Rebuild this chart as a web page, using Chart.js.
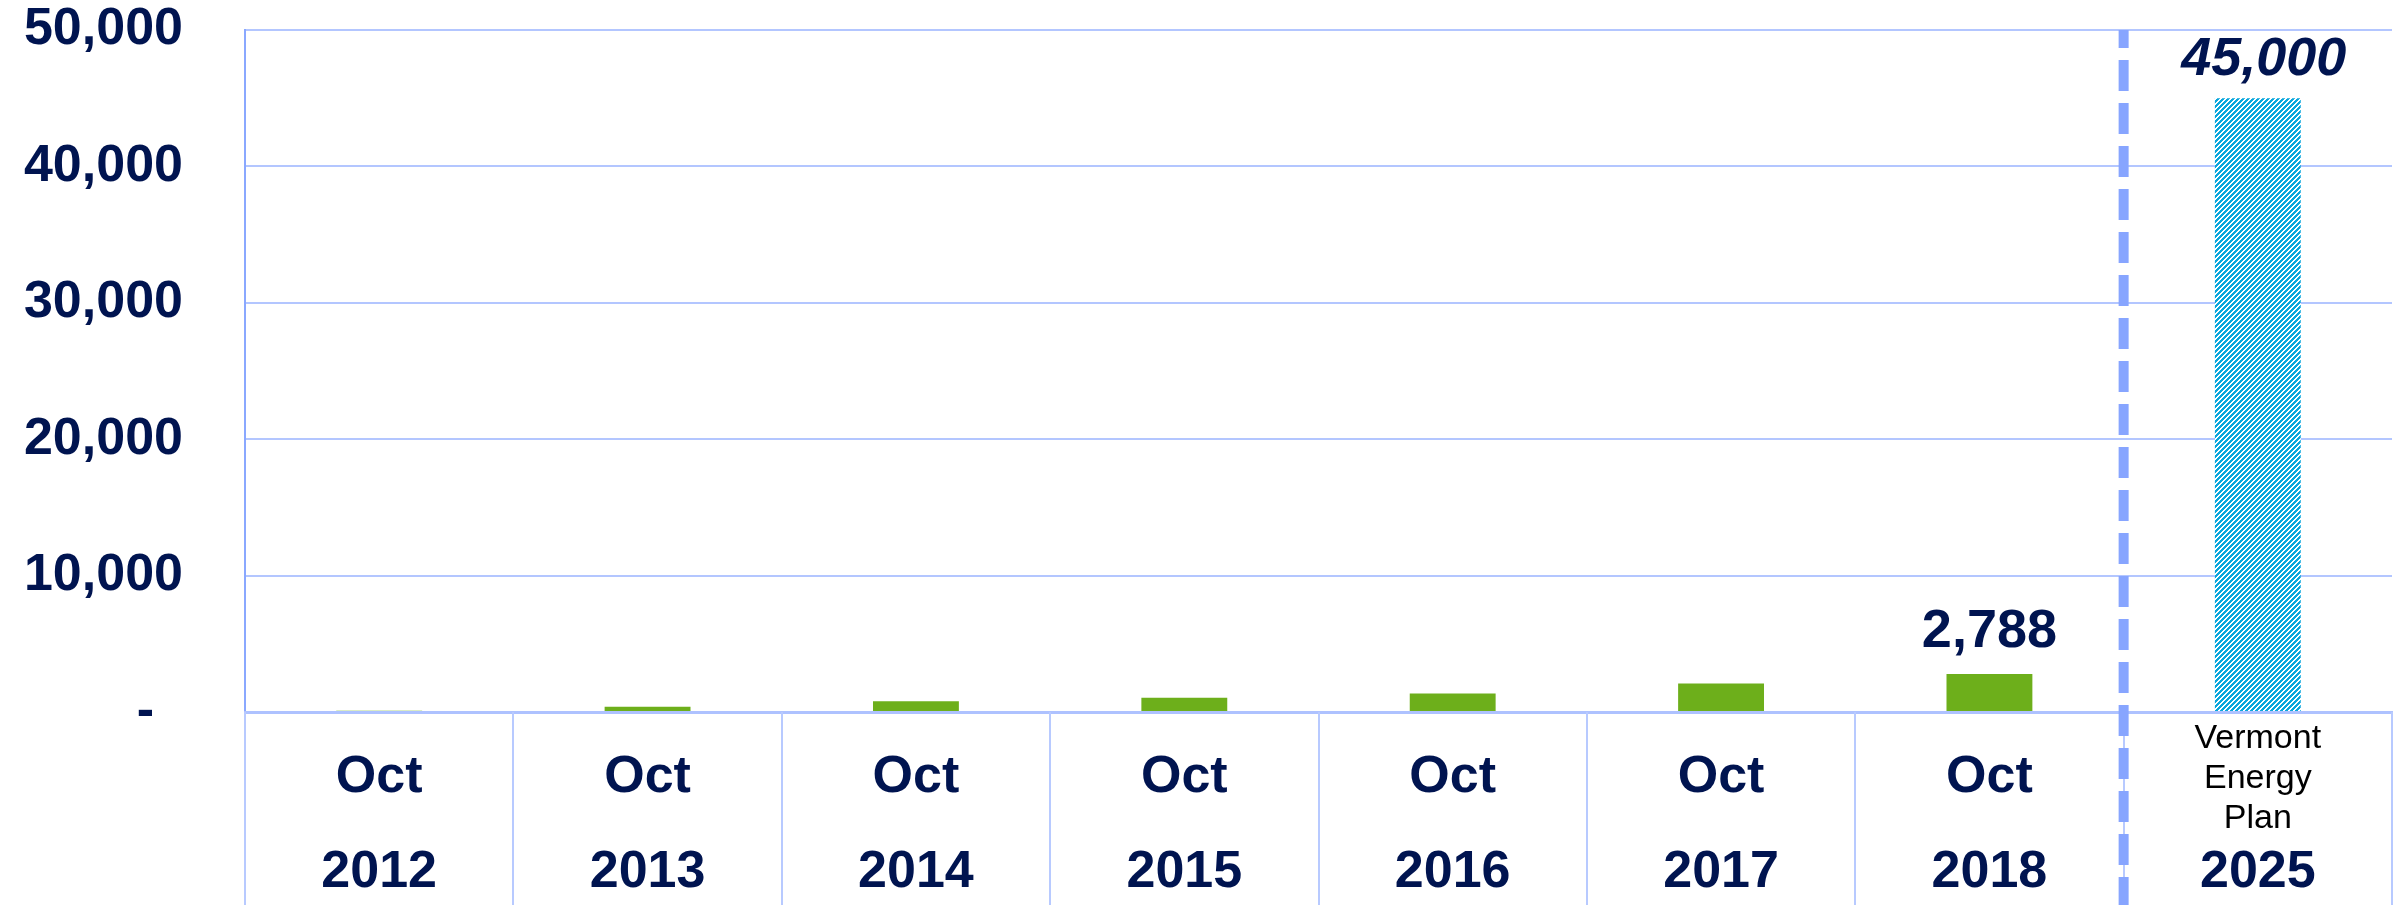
<!DOCTYPE html>
<html>
<head>
<meta charset="utf-8">
<script src="https://cdn.jsdelivr.net/npm/chart.js@4.4.0/dist/chart.umd.min.js"></script>
<style>
  html, body { margin: 0; padding: 0; background: #fff; }
  #wrap { width: 2405px; height: 905px; }
</style>
</head>
<body>
<div id="wrap"><canvas id="chart" width="2405" height="905"></canvas></div>
<script>
// EV registrations by October of each year, plus the 2025 plan target
const periods = ['Oct', 'Oct', 'Oct', 'Oct', 'Oct', 'Oct', 'Oct', ['Vermont', 'Energy', 'Plan']];
const years = ['2012', '2013', '2014', '2015', '2016', '2017', '2018', '2025'];
const values = [100, 390, 780, 1050, 1350, 2090, 2788, 45000];
const valueLabels = [null, null, null, null, null, null, '2,788', '45,000'];
const yTicks = [0, 10000, 20000, 30000, 40000, 50000];

(function () {
  const NAVY = '#001450';
  const GREEN = '#6daf1b';
  const HATCH = '#0aa6dc';
  const FAMILY = '"Liberation Sans", Arial, sans-serif';
  const last = years.length - 1; // the plan target column

  const canvas = document.getElementById('chart');
  const ctx = canvas.getContext('2d');

  function hatchPattern() {
    const c = document.createElement('canvas');
    c.width = 5; c.height = 5;
    const g = c.getContext('2d');
    g.fillStyle = '#fff'; g.fillRect(0, 0, 5, 5);
    g.fillStyle = HATCH;
    for (let x = 0; x < 5; x++) for (let y = 0; y < 5; y++) if ((x + y) % 5 < 3) g.fillRect(x, y, 1, 1);
    return ctx.createPattern(c, 'repeat');
  }
  const pattern = hatchPattern();

  // category dividers under the axis + dashed separator before the plan column
  const frame = {
    id: 'frame',
    afterDraw(chart) {
      const xs = chart.scales.x, area = chart.chartArea, c = chart.ctx;
      const step = xs.getPixelForValue(1) - xs.getPixelForValue(0);
      const x0 = xs.getPixelForValue(0) - step / 2;
      c.save();
      c.strokeStyle = '#b8caff'; c.lineWidth = 2;
      for (let i = 0; i <= years.length; i++) {
        const x = Math.round(x0 + i * step);
        c.beginPath(); c.moveTo(x, area.bottom); c.lineTo(x, chart.height); c.stroke();
      }
      const xd = (xs.getPixelForValue(last - 1) + xs.getPixelForValue(last)) / 2;
      c.strokeStyle = '#87a5ff'; c.lineWidth = 10;
      c.setLineDash([31, 12]); c.lineDashOffset = 13;
      c.beginPath(); c.moveTo(xd, area.top); c.lineTo(xd, chart.height); c.stroke();
      c.restore();
    }
  };

  const barLabels = {
    id: 'barLabels',
    afterDatasetsDraw(chart) {
      const meta = chart.getDatasetMeta(0), c = chart.ctx;
      c.save();
      c.fillStyle = NAVY; c.textAlign = 'center'; c.textBaseline = 'alphabetic';
      meta.data.forEach((bar, i) => {
        if (!valueLabels[i]) return;
        c.font = (i === last ? 'italic ' : '') + 'bold 54px ' + FAMILY;
        c.fillText(valueLabels[i], bar.x + (i === last ? 6 : 0), bar.y - (i === last ? 23 : 27));
      });
      c.restore();
    }
  };

  new Chart(ctx, {
    type: 'bar',
    data: {
      labels: periods,
      datasets: [{
        data: values,
        backgroundColor: c => c.dataIndex === last ? pattern : GREEN,
        borderWidth: 0,
        barPercentage: 0.32, categoryPercentage: 1
      }]
    },
    options: {
      responsive: false, animation: false, devicePixelRatio: 1,
      layout: { padding: { top: 30, right: 13, left: 0, bottom: 0 } },
      plugins: { legend: { display: false }, tooltip: { enabled: false } },
      scales: {
        y: {
          min: 0, max: 50000,
          afterBuildTicks: s => { s.ticks = yTicks.map(v => ({ value: v })); },
          afterFit: s => { s.width = 245; s.paddingTop = 20; s.paddingBottom = 20; },
          border: { display: true, color: '#8aa8ff', width: 2 },
          grid: { color: '#b3c6ff', lineWidth: 2, drawTicks: false },
          ticks: {
            padding: 62, color: NAVY,
            font: { family: FAMILY, size: 52, weight: 'bold', lineHeight: 1 },
            callback: v => v === 0 ? '-\u2007' : v.toLocaleString('en-US')
          }
        },
        x: {
          position: 'bottom', offset: true, weight: 0,
          afterFit: s => { s.height = 135; },
          grid: { display: false, drawTicks: false },
          border: { display: true, color: '#aec2ff', width: 3 },
          ticks: {
            padding: 7, maxRotation: 0, autoSkip: false,
            color: c => c.index === last ? '#000' : NAVY,
            font: c => c.index === last
              ? { family: FAMILY, size: 34, lineHeight: 40 / 34 }
              : { family: FAMILY, size: 52, weight: 'bold', lineHeight: 118 / 52 }
          }
        },
        x2: {
          type: 'category', labels: years, position: 'bottom', offset: true, weight: 1,
          afterFit: s => { s.height = 58; },
          grid: { display: false, drawTicks: false }, border: { display: false },
          ticks: {
            padding: 0, maxRotation: 0, autoSkip: false, color: NAVY,
            font: { family: FAMILY, size: 52, weight: 'bold', lineHeight: 1 }
          }
        }
      }
    },
    plugins: [frame, barLabels]
  });
})();
</script>
</body>
</html>
